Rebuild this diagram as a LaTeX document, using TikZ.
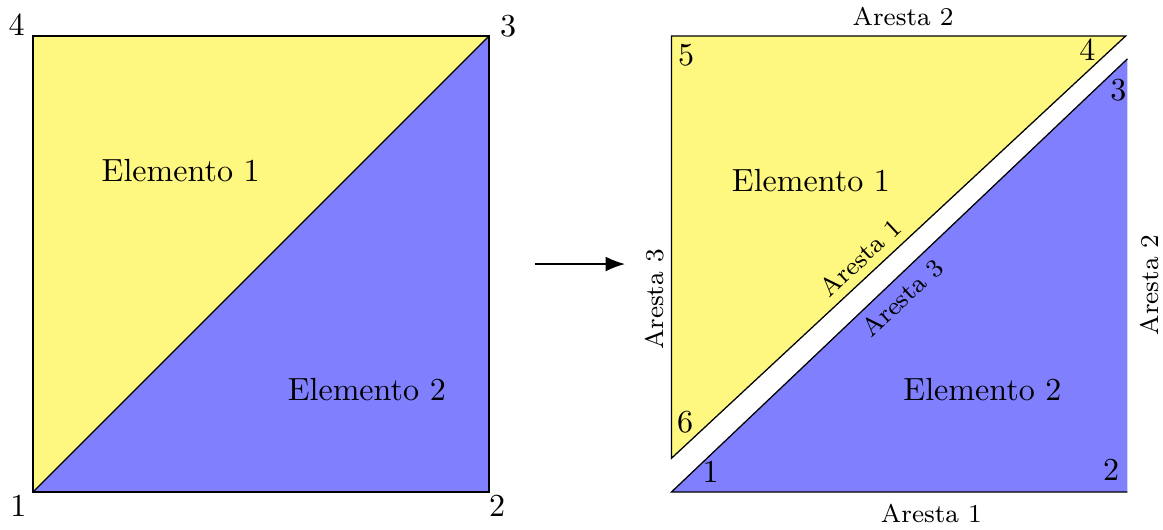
\documentclass[tikz,border=0pt]{standalone}
\usepackage{amsmath}
\usepackage{tikz}
\usetikzlibrary{calc}
\usetikzlibrary{positioning}
\usetikzlibrary{arrows.meta}

\tikzset{
  elemA/.style={fill=yellow!50},
  elemB/.style={fill=blue!50},
  aresta/.style={font=\footnotesize}
}

\begin{document}
\begin{tikzpicture}
        \useasboundingbox (-0.362,-0.406) rectangle (12.39,5.395);

        % malha original
        \coordinate (q1) at (0,0);
        \coordinate (q2) at (5,0);
        \coordinate (q3) at (5,5);
        \coordinate (q4) at (0,5);
        \fill[elemA] (q1)--(q3)--(q4)--cycle;
        \fill[elemB] (q1)--(q2)--(q3)--cycle;
        \draw (q1)--(q2)--(q3)--(q4)--cycle;
        \draw (q1)--(q3);

        \node (n1) at (-0.16,-0.15) {1};
        \node (n2) at (5.09,-0.15) {2};
        \node (n3) at (5.21,5.11) {3};
        \node (n4) at (-0.18,5.12) {4};
        \node (e1) at (1.62,3.53) {Elemento 1};
        \node (e2) at (3.66,1.12) {Elemento 2};

        \coordinate (sa) at (5.5,2.5);
        \coordinate (sb) at (6.49,2.5);
        \draw[-{Latex[length=6pt,width=4.6pt]}] (sa)--(sb);

        % elementos separados
        \coordinate (a6) at (7,0.37);
        \coordinate (a4) at (11.98,5);
        \coordinate (a5) at (7,5);
        \coordinate (b1) at (7,0);
        \coordinate (b2) at (12,0);
        \coordinate (b3) at (12,4.75);
        \fill[elemA] (a6)--(a4)--(a5)--cycle;
        \draw (a6)--(a4)--(a5)--cycle;
        \fill[elemB] (b1)--(b2)--(b3)--cycle;
        \draw (b3)--(b1)--(b2);

        \node (m5) at (7.16,4.79) {5};
        \node (m4) at (11.56,4.85) {4};
        \node (m6) at (7.15,0.77) {6};
        \node (m3) at (11.9,4.41) {3};
        \node (m1) at (7.43,0.22) {1};
        \node (m2) at (11.82,0.24) {2};
        \node (f1) at (8.53,3.41) {Elemento 1};
        \node (f2) at (10.41,1.12) {Elemento 2};

        \node[aresta] (r2a) at (9.54,5.21) {Aresta 2};
        \node[aresta,rotate=90] (r3a) at (6.82,2.11) {Aresta 3};
        \node[aresta,rotate=43] (r1a) at (9.07,2.57) {Aresta 1};
        \node[aresta,rotate=43] (r3b) at (9.53,2.13) {Aresta 3};
        \node[aresta] (r1b) at (9.85,-0.24) {Aresta 1};
        \node[aresta,rotate=90] (r2b) at (12.24,2.27) {Aresta 2};
    \end{tikzpicture}
\end{document}
